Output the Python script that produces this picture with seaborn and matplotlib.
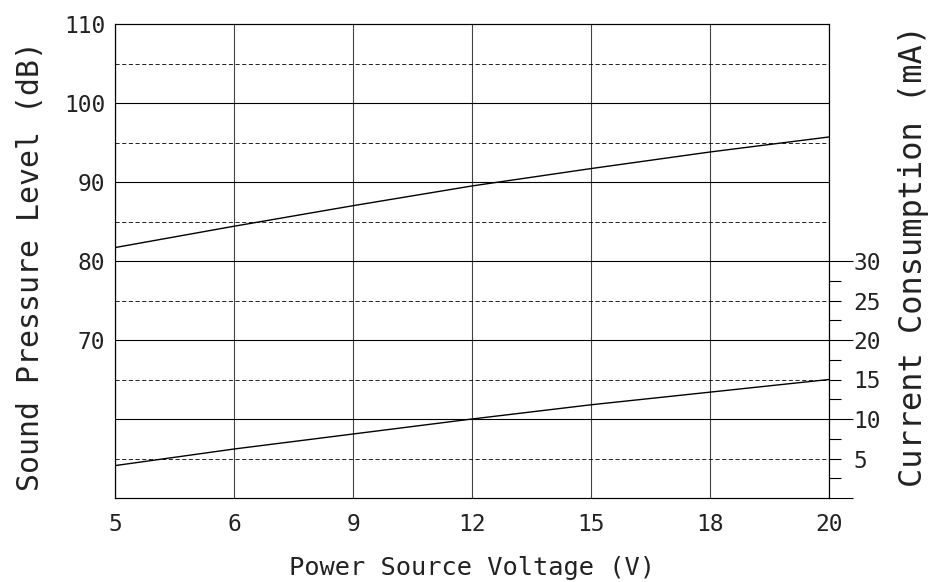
import numpy as np
import pandas as pd
import matplotlib
matplotlib.use("Agg")
import matplotlib.pyplot as plt
import seaborn as sns

# values
volt_labels = ["5", "6", "9", "12", "15", "18", "20"]
spl_db = [81.7, 84.4, 87.0, 89.5, 91.7, 93.8, 95.7]
current_ma = [4.1, 6.2, 8.1, 10.0, 11.8, 13.4, 15.0]
spl_ticks = [70, 80, 90, 100, 110]
current_major = [0, 10, 20, 30]
current_minor = [2.5, 5, 7.5, 12.5, 15, 17.5, 22.5, 25, 27.5]

sns.set_style("white")
plt.rcParams["font.family"] = ["DejaVu Sans Mono", "DejaVu Sans"]
plt.rcParams["text.color"] = "#222222"
plt.rcParams["xtick.color"] = "black"
plt.rcParams["ytick.color"] = "black"
plt.rcParams["xtick.labelcolor"] = "#222222"
plt.rcParams["ytick.labelcolor"] = "#222222"
plt.rcParams["axes.labelcolor"] = "#222222"

df = pd.DataFrame({"pos": range(len(volt_labels)), "spl": spl_db, "cur": current_ma})

fig = plt.figure(figsize=(9.42, 5.82), dpi=100)
ax = fig.add_axes([115/942, 1-498/582, 714/942, 474/582])
ax2 = ax.twinx()

lw = 0.8
# grid
for p in df["pos"]:
    ax.axvline(p, color="#444444", lw=lw, zorder=1)
for y in range(60, 110, 10):
    ax.axhline(y, color="black", lw=lw, zorder=1)
for y in range(55, 110, 10):
    ax.axhline(y, color="black", lw=0.6, ls=(0, (5, 3)), zorder=1)

sns.lineplot(data=df, x="pos", y="spl", ax=ax, color="black", lw=1.0, zorder=3)
sns.lineplot(data=df, x="pos", y="cur", ax=ax2, color="black", lw=1.0, zorder=3)

ax.set_xlim(0, len(volt_labels) - 1)
ax.set_ylim(50, 110)
ax2.set_ylim(0, 60)

ax.set_xticks(df["pos"], volt_labels)
ax.set_yticks(spl_ticks)
ax.tick_params(axis="both", length=0, labelsize=16.5)
ax.tick_params(axis="x", pad=11)
ax.tick_params(axis="y", pad=7)

ax2.set_yticks(current_major, ["", "10", "20", "30"])
ax2.set_yticks(current_minor, ["", "5", "", "", "15", "", "", "25", ""], minor=True)
ax2.tick_params(axis="y", which="major", length=17.3, width=lw, pad=0.5,
                labelsize=16.5, direction="out")
ax2.tick_params(axis="y", which="minor", length=8.6, width=lw, pad=9.2,
                labelsize=16.5, direction="out")

for a in (ax, ax2):
    for s in a.spines.values():
        s.set_color("black")
        s.set_linewidth(lw)

ax.set_xlabel("Power Source Voltage (V)", fontsize=18.3)
ax.set_ylabel("Sound Pressure Level (dB)", fontsize=21.5)
ax2.set_ylabel("Current Consumption (mA)", fontsize=23)
ax.xaxis.set_label_coords(0.5, -0.122)
ax.yaxis.set_label_coords(-0.098, 0.49)
ax2.yaxis.set_label_coords(1.097, 0.51)

fig.savefig("out.png", dpi=100)
